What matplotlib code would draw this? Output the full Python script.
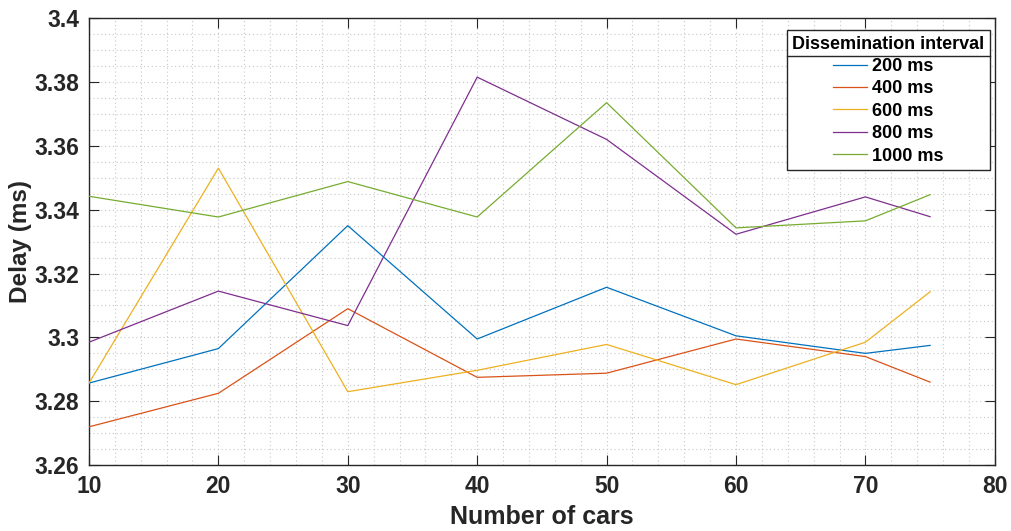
import matplotlib
matplotlib.use("Agg")
import matplotlib.pyplot as plt
from matplotlib.ticker import MultipleLocator, FuncFormatter
from matplotlib.lines import Line2D

plt.rcParams["font.family"] = ["Liberation Sans", "DejaVu Sans"]
plt.rcParams["font.weight"] = "bold"

cars = [10, 20, 30, 40, 50, 60, 70, 75]
delay_200 = [3.2857, 3.2965, 3.3350, 3.2995, 3.3157, 3.3005, 3.2950, 3.2975]
delay_400 = [3.2720, 3.2825, 3.3090, 3.2875, 3.2888, 3.2995, 3.2940, 3.2860]
delay_600 = [3.2857, 3.3530, 3.2830, 3.2897, 3.2978, 3.2852, 3.2985, 3.3143]
delay_800 = [3.2985, 3.3145, 3.3037, 3.3815, 3.3620, 3.3323, 3.3440, 3.3378]
delay_1000 = [3.3442, 3.3377, 3.3488, 3.3377, 3.3735, 3.3343, 3.3365, 3.3447]
labels = ["200 ms", "400 ms", "600 ms", "800 ms", "1000 ms"]
colors = ["#0072BD", "#D95319", "#EDB120", "#7E2F8E", "#77AC30"]

fig = plt.figure(figsize=(10.11, 5.31), dpi=100)
ax = fig.add_axes([0.088, 0.124, 0.896, 0.842])

for ys, lab, c in zip([delay_200, delay_400, delay_600, delay_800, delay_1000], labels, colors):
    ax.plot(cars, ys, color=c, lw=0.9, label=lab, zorder=3)

ax.set_xlim(10, 80)
ax.set_ylim(3.26, 3.4)
ax.xaxis.set_major_locator(MultipleLocator(10))
ax.xaxis.set_minor_locator(MultipleLocator(2))
ax.yaxis.set_major_locator(MultipleLocator(0.02))
ax.yaxis.set_minor_locator(MultipleLocator(0.005))
ax.yaxis.set_major_formatter(FuncFormatter(lambda v, p: f"{v:.2f}".rstrip("0").rstrip(".")))

ax.grid(which="both", color="#c8c8c8", linestyle=(0, (1, 2.5)), lw=0.8, zorder=0)
ax.tick_params(which="major", direction="in", length=7, width=0.8, color="#262626",
               top=True, right=True, labelsize=16.5, labelcolor="#262626", pad=7)
ax.tick_params(which="minor", length=0, top=True, right=True)
for s in ax.spines.values():
    s.set_color("#262626")
    s.set_linewidth(1.0)

ax.set_xlabel("Number of cars", fontsize=18, fontweight="bold", color="#262626", labelpad=5)
ax.set_ylabel("Delay (ms)", fontsize=17.5, fontweight="bold", color="#262626", labelpad=2)

leg = ax.legend(title="Dissemination interval", loc="upper right",
                bbox_to_anchor=(0.9945, 0.973), borderaxespad=0, fontsize=13, title_fontsize=13,
                frameon=True, fancybox=False, edgecolor="#262626", framealpha=1,
                handlelength=1.85, handletextpad=0.3, labelspacing=0.3, borderpad=0.3)
leg.get_frame().set_linewidth(1.0)
leg.get_title().set_fontweight("bold")
leg.set_zorder(5)

fig.canvas.draw()
fb = leg.get_frame().get_window_extent()
tb = leg.get_title().get_window_extent()
yline = tb.y0 - 3
inv = fig.transFigure.inverted()
(x0, y0), (x1, _) = inv.transform([(fb.x0, yline), (fb.x1, yline)])
fig.add_artist(Line2D([x0, x1], [y0, y0], color="#262626", lw=1.0, zorder=6))

fig.savefig("out.png", dpi=100)
